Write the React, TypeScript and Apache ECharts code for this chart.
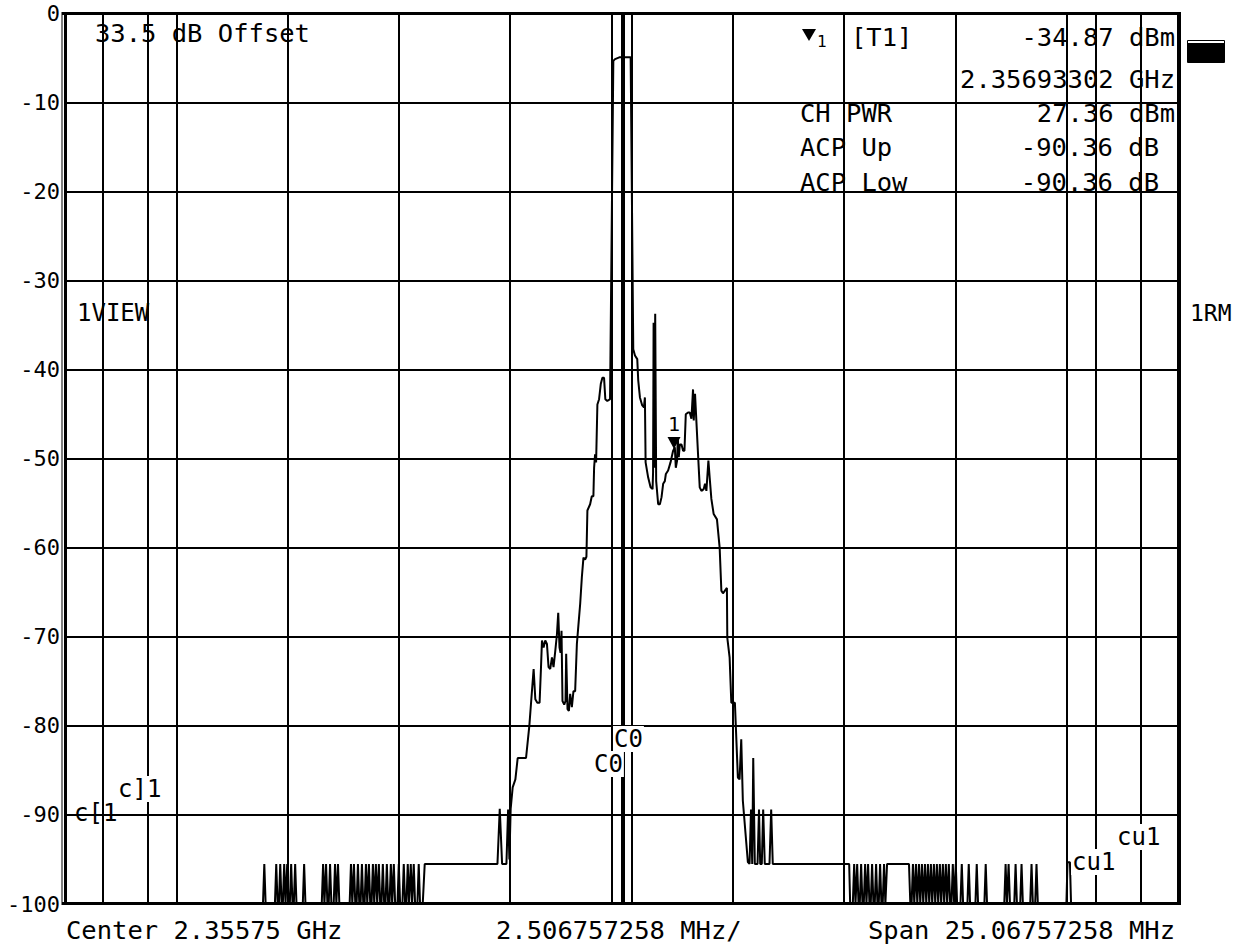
import React, { useEffect, useRef } from "react";
import * as echarts from "echarts";

// ---- axis definition (frequency offset from centre, MHz) ----
const DIV_MHZ = 2.506757258;
const X_DIVS = 5;
const LEVEL_MIN = -100;
const LEVEL_MAX = 0;
const LEVEL_STEP = 10;

// ---- trace levels ----
const FLOOR_DB = -100; // clipped bottom of screen
const SPIKE_TOP_DB = -95.5; // level the noise spikes reach
const SPIKE_HALF_MHZ = 0.03;

// noise spikes on the lower side (MHz offset)
const leftSpikesMHz = [
  -8.045, -7.776, -7.686, -7.597, -7.529, -7.44, -7.35, -7.148, -6.721, -6.654,
  -6.564, -6.452, -6.385, -6.093, -6.026, -5.936, -5.846, -5.756, -5.689, -5.599,
  -5.532, -5.465, -5.375, -5.285, -5.195, -5.128, -5.016, -4.904, -4.814, -4.746,
  -4.679, -4.567,
];

// noise spikes on the upper side (MHz offset)
const rightSpikesMHz = [
  5.24, 5.308, 5.397, 5.487, 5.554, 5.644, 5.734, 5.824, 5.913, 6.564, 6.632,
  6.699, 6.766, 6.834, 6.901, 6.968, 7.036, 7.103, 7.17, 7.238, 7.305, 7.372,
  7.462, 7.529, 7.664, 7.821, 8.001, 8.203, 8.651, 8.719, 8.876, 9.01, 9.235,
  9.347,
];

// main trace [MHz offset, dBm]
const mainTrace: [number, number][] = [
  [-12.534, -100],
  [-4.477, -100], [-4.432, -95.5],
  [-2.794, -95.5], [-2.742, -89.3], [-2.689, -95.5],
  [-2.592, -95.5], [-2.554, -89.4], [-2.525, -95.0], [-2.496, -89.3],
  [-2.451, -86.9], [-2.39, -86.0], [-2.338, -83.6], [-2.15, -83.6], [-2.076, -80.0],
  [-2.031, -77.0], [-1.979, -73.6], [-1.941, -77.0], [-1.896, -77.4], [-1.845, -77.4],
  [-1.813, -73.4], [-1.791, -70.4], [-1.755, -71.2], [-1.717, -70.4], [-1.679, -70.8],
  [-1.643, -73.4], [-1.605, -73.6], [-1.566, -72.3], [-1.531, -73.4], [-1.492, -71.6],
  [-1.454, -69.7], [-1.425, -67.3], [-1.396, -71.2], [-1.373, -71.8], [-1.351, -69.3],
  [-1.329, -77.2], [-1.29, -77.6], [-1.261, -77.2], [-1.246, -71.9], [-1.216, -78.1],
  [-1.185, -78.3], [-1.156, -76.4], [-1.118, -77.9], [-1.082, -76.1], [-1.044, -76.1],
  [-1.005, -70.8], [-0.969, -68.6], [-0.931, -66.3], [-0.893, -63.3], [-0.857, -61.1],
  [-0.819, -61.3], [-0.79, -61.0], [-0.768, -55.8], [-0.707, -55.1], [-0.669, -54.2],
  [-0.633, -54.2], [-0.617, -51.0], [-0.595, -49.5], [-0.572, -50.4], [-0.543, -43.9],
  [-0.505, -43.3], [-0.467, -41.6], [-0.431, -40.9], [-0.393, -40.9], [-0.364, -43.3],
  [-0.319, -43.5], [-0.258, -43.3], [-0.184, -5.3], [-0.146, -5.1], [-0.049, -4.9],
  [0.206, -4.9], [0.265, -37.7], [0.303, -38.4], [0.355, -38.8], [0.377, -41.2],
  [0.415, -43.1], [0.467, -44.0], [0.505, -44.2], [0.527, -43.1], [0.543, -50.4],
  [0.601, -52.1], [0.655, -53.2], [0.7, -53.4], [0.711, -51.5], [0.723, -34.7],
  [0.736, -51.0], [0.759, -33.7], [0.781, -52.5], [0.826, -55.1], [0.864, -55.1],
  [0.902, -54.3], [0.938, -52.8], [0.976, -52.5], [0.999, -51.7], [1.05, -51.3],
  [1.104, -50.4], [1.162, -49.1], [1.201, -48.7], [1.223, -51.0], [1.252, -50.2],
  [1.268, -47.6], [1.29, -49.8], [1.313, -48.4], [1.351, -48.4], [1.387, -49.1],
  [1.418, -49.1], [1.448, -45.0], [1.499, -44.8], [1.537, -44.8], [1.575, -45.5],
  [1.611, -42.2], [1.627, -45.7], [1.656, -42.7], [1.724, -49.5], [1.762, -53.2],
  [1.8, -53.6], [1.851, -53.4], [1.881, -52.8], [1.912, -53.6], [1.957, -50.2],
  [1.986, -52.1], [2.024, -54.5], [2.076, -56.2], [2.15, -56.8], [2.211, -60.0],
  [2.249, -64.8], [2.285, -65.1], [2.374, -64.5], [2.383, -70.1], [2.435, -72.3],
  [2.473, -77.4], [2.554, -77.4], [2.621, -85.8], [2.659, -86.0], [2.697, -81.5],
  [2.733, -88.4], [2.846, -95.3], [2.884, -95.5], [2.917, -89.4], [2.944, -95.5],
  [2.967, -83.6], [3.003, -95.5], [3.064, -95.5], [3.097, -89.4], [3.124, -95.5],
  [3.16, -95.5], [3.191, -89.4], [3.227, -95.5], [3.333, -95.5], [3.371, -89.4],
  [3.407, -95.5], [5.128, -95.5], [5.15, -100],
  [5.95, -100], [5.981, -95.5], [6.475, -95.5], [6.505, -100],
  [10.02, -100], [10.045, -95.3], [10.1, -95.3], [10.125, -100],
  [12.534, -100],
];

// channel / limit lines (MHz offset)
const channelLinesMHz = [-11.69, -10.68, -0.22, 0.24, 10.68, 11.69];
const centreLineMHz = 0.03;

// marker 1
const markerMHz = 1.183;
const markerDb = -48.9;

const MONO = '"DejaVu Sans Mono", "Liberation Mono", monospace';

function buildTrace(): [number, number][] {
  const pts: [number, number][] = [...mainTrace];
  for (const f of [...leftSpikesMHz, ...rightSpikesMHz]) {
    pts.push([f - SPIKE_HALF_MHZ, FLOOR_DB]);
    pts.push([f, SPIKE_TOP_DB]);
    pts.push([f + SPIKE_HALF_MHZ, FLOOR_DB]);
  }
  pts.sort((a, b) => a[0] - b[0]);
  return pts;
}

type T = {
  text: string;
  x: number;
  y: number;
  align?: "left" | "right" | "center";
  size?: number;
  bg?: boolean;
};

const texts: T[] = [
  { text: "33.5 dB Offset", x: 95, y: 33 },
  { text: "1", x: 817, y: 41, size: 16 },
  { text: "[T1]", x: 851, y: 37 },
  { text: "-34.87 dBm", x: 1175, y: 37, align: "right" },
  { text: "2.35693302 GHz", x: 1175, y: 79, align: "right" },
  { text: "CH PWR", x: 800, y: 113 },
  { text: "27.36 dBm", x: 1175, y: 113, align: "right" },
  { text: "ACP Up", x: 800, y: 147 },
  { text: "-90.36 dB", x: 1159, y: 147, align: "right" },
  { text: "ACP Low", x: 800, y: 182 },
  { text: "-90.36 dB", x: 1159, y: 182, align: "right" },
  { text: "1VIEW", x: 77, y: 313, size: 24 },
  { text: "1RM", x: 1190, y: 313, size: 23 },
  { text: "c]1", x: 117, y: 789, bg: true, size: 24 },
  { text: "c[1", x: 74, y: 813, size: 24 },
  { text: "C0", x: 613, y: 739, bg: true, size: 24 },
  { text: "C0", x: 593, y: 764, bg: true, size: 24 },
  { text: "cu1", x: 1116, y: 837, bg: true, size: 24 },
  { text: "cu1", x: 1071, y: 862, bg: true, size: 24 },
  { text: "Center 2.35575 GHz", x: 66, y: 930 },
  { text: "2.506757258 MHz/", x: 496, y: 930 },
  { text: "Span 25.06757258 MHz", x: 1175, y: 930, align: "right" },
];

export default function App() {
  const ref = useRef<HTMLDivElement>(null);
  useEffect(() => {
    if (!ref.current) return;
    const chart = echarts.init(ref.current, null, { renderer: "svg" });
    const black = "#000";

    const graphic: any[] = [
      // frame
      { type: "line", z: 50, shape: { x1: 62, y1: 12, x2: 62, y2: 905 }, style: { stroke: black, lineWidth: 1 } },
      { type: "line", z: 50, shape: { x1: 66, y1: 12, x2: 66, y2: 905 }, style: { stroke: black, lineWidth: 2 } },
      { type: "line", z: 50, shape: { x1: 62, y1: 13.5, x2: 1181, y2: 13.5 }, style: { stroke: black, lineWidth: 3 } },
      { type: "line", z: 50, shape: { x1: 62, y1: 903.5, x2: 1181, y2: 903.5 }, style: { stroke: black, lineWidth: 3 } },
      { type: "line", z: 50, shape: { x1: 1179.5, y1: 12, x2: 1179.5, y2: 905 }, style: { stroke: black, lineWidth: 3 } },
      // status block
      { type: "rect", z: 50, shape: { x: 1187.5, y: 40.5, width: 37, height: 22 }, style: { fill: "#fff", stroke: black, lineWidth: 1 } },
      { type: "rect", z: 50, shape: { x: 1188, y: 43, width: 36, height: 20 }, style: { fill: black } },
      // marker-1 info triangle
      { type: "polygon", z: 60, shape: { points: [[802, 29], [816, 29], [809, 41]] }, style: { fill: black } },
    ];
    for (const t of texts) {
      graphic.push({
        type: "text",
        z: 60,
        x: t.x,
        y: t.y,
        style: {
          text: t.text,
          fill: black,
          font: `${t.size ?? 25.5}px ${MONO}`,
          textAlign: t.align ?? "left",
          textVerticalAlign: "middle",
          backgroundColor: t.bg ? "#fff" : undefined,
          padding: t.bg ? [1, 1, 1, 1] : undefined,
        },
      });
    }

    chart.setOption({
      animation: false,
      backgroundColor: "#fff",
      grid: { left: 65, top: 13.7, width: 1113, height: 890.3, show: false },
      xAxis: {
        type: "value",
        min: -X_DIVS * DIV_MHZ,
        max: X_DIVS * DIV_MHZ,
        interval: DIV_MHZ,
        axisLine: { show: false },
        axisTick: { show: false },
        axisLabel: { show: false },
        splitLine: { show: true, lineStyle: { color: black, width: 2 } },
      },
      yAxis: {
        type: "value",
        min: LEVEL_MIN,
        max: LEVEL_MAX,
        interval: LEVEL_STEP,
        axisLine: { show: false },
        axisTick: { show: false },
        axisLabel: { color: black, fontFamily: MONO, fontSize: 22, margin: 5 },
        splitLine: { show: true, lineStyle: { color: black, width: 2 } },
      },
      series: [
        {
          type: "line",
          data: buildTrace(),
          showSymbol: false,
          symbol: "none",
          clip: true,
          z: 5,
          lineStyle: { color: black, width: 2 },
          markLine: {
            silent: true,
            symbol: "none",
            label: { show: false },
            lineStyle: { color: black, width: 2, type: "solid" },
            data: [
              ...channelLinesMHz.map((f) => ({ xAxis: f })),
              { xAxis: centreLineMHz, lineStyle: { color: black, width: 4, type: "solid" } },
            ],
          },
          markPoint: {
            silent: true,
            data: [
              {
                coord: [markerMHz, markerDb],
                symbol: "triangle",
                symbolRotate: 180,
                symbolSize: [13, 12],
                symbolOffset: [0, -6],
                itemStyle: { color: black },
                label: {
                  show: true,
                  formatter: "1",
                  position: "top",
                  distance: 3,
                  color: black,
                  fontFamily: MONO,
                  fontSize: 20,
                },
              },
            ],
          },
        },
      ],
      graphic,
    });
    return () => chart.dispose();
  }, []);
  return (
    <div
      ref={ref}
      style={{ position: "fixed", left: 0, top: 0, width: 1242, height: 945, background: "#fff" }}
    />
  );
}
